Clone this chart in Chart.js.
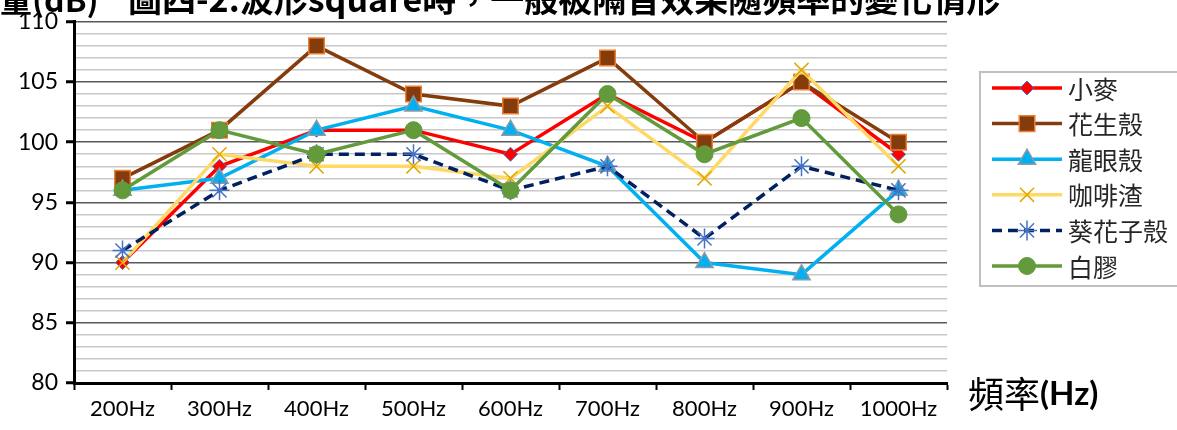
<!DOCTYPE html>
<html>
<head>
<meta charset="utf-8">
<script src="https://cdn.jsdelivr.net/npm/chart.js@4.4.1/dist/chart.umd.min.js"></script>
<style>
  html, body { margin: 0; padding: 0; background: #fff; }
  #wrap { width: 1177px; height: 430px; position: relative; }
</style>
</head>
<body>
<div id="wrap"><canvas id="chart" width="1177" height="430"></canvas></div>
<script>
const categories = ["200Hz", "300Hz", "400Hz", "500Hz", "600Hz", "700Hz", "800Hz", "900Hz", "1000Hz"];
const seriesNames = ["小麥", "花生殼", "龍眼殼", "咖啡渣", "葵花子殼", "白膠"];
const wheat = [90, 98, 101, 101, 99, 104, 100, 105, 99];
const peanut = [97, 101, 108, 104, 103, 107, 100, 105, 100];
const longan = [96, 97, 101, 103, 101, 98, 90, 89, 96];
const coffee = [90, 99, 98, 98, 97, 103, 97, 106, 98];
const sunflower = [91, 96, 99, 99, 96, 98, 92, 98, 96];
const glue = [96, 101, 99, 101, 96, 104, 99, 102, 94];
const yMin = 80, yMax = 110;
const titleText = "圖四-2:波形square時，一般被隔音效果隨頻率的變化情形";
const yTitle = "音量(dB)";

const styles = [
    { line: "#FF0000", fill: "#FF0000", edge: "#4472C4", shape: "rectRot", r: 7, edgeW: 1 },
    { line: "#843C0C", fill: "#843C0C", edge: "#ED7D31", shape: "rect", r: 11, edgeW: 1.5 },
    { line: "#00B0F0", fill: "#00B0F0", edge: "#8E9AA8", shape: "triangle", r: 10, edgeW: 1.5 },
    { line: "#FFD966", fill: "#FFC000", edge: "#E0A800", shape: "crossRot", r: 10, edgeW: 1.5 },
    { line: "#002060", fill: "#4472C4", edge: "#4472C4", shape: "star", r: 10, edgeW: 1.5, dash: [10, 6] },
    { line: "#629A3C", fill: "#629A3C", edge: "#629A3C", shape: "circle", r: 8.5, edgeW: 1 }
];
const values = [wheat, peanut, longan, coffee, sunflower, glue];

const datasets = values.map(function (data, i) {
    const s = styles[i];
    return {
        label: seriesNames[i],
        data: data,
        borderColor: s.line,
        borderWidth: 3.5,
        borderDash: s.dash || [],
        pointStyle: s.shape,
        pointRadius: s.r,
        pointBackgroundColor: s.fill,
        pointBorderColor: s.edge,
        pointBorderWidth: s.edgeW,
        tension: 0,
        // later series sit on top
        order: values.length - i
    };
});

// title, x axis name and legend box
const decorations = {
    id: "decorations",
    afterDraw(chart) {
        const ctx = chart.ctx;
        ctx.save();
        ctx.fillStyle = "#000";
        ctx.textBaseline = "alphabetic";
        ctx.textAlign = "left";
        ctx.font = "bold 32px 'Noto Sans CJK TC'";
        ctx.fillText(yTitle, -32, 12);
        ctx.font = "bold 34px 'Noto Sans CJK TC'";
        ctx.fillText(titleText, 128, 12);

        // x axis name
        ctx.font = "36px 'Noto Sans CJK TC'";
        ctx.textBaseline = "middle";
        ctx.fillText("頻率", 968, 394);
        const w = ctx.measureText("頻率").width;
        ctx.font = "bold 33px Lato";
        ctx.fillText("(Hz)", 968 + w, 394);

        // legend
        ctx.strokeStyle = "#BFBFBF";
        ctx.lineWidth = 2;
        ctx.strokeRect(980, 72, 210, 214);
        datasets.forEach(function (ds, i) {
            const y = 88 + i * 35.6;
            ctx.save();
            ctx.strokeStyle = ds.borderColor;
            ctx.lineWidth = 3.5;
            ctx.setLineDash(ds.borderDash);
            ctx.beginPath();
            ctx.moveTo(992, y);
            ctx.lineTo(1062, y);
            ctx.stroke();
            ctx.restore();
            ctx.save();
            ctx.fillStyle = ds.pointBackgroundColor;
            ctx.strokeStyle = ds.pointBorderColor;
            ctx.lineWidth = ds.pointBorderWidth;
            Chart.helpers.drawPoint(ctx, {
                pointStyle: ds.pointStyle,
                radius: ds.pointRadius,
                rotation: 0,
                borderWidth: ds.pointBorderWidth
            }, 1027, y);
            ctx.restore();
            ctx.fillStyle = "#262626";
            ctx.font = "25px 'Noto Sans CJK TC'";
            ctx.textBaseline = "middle";
            ctx.fillText(ds.label, 1068, y + 1);
        });
        ctx.restore();
    }
};

new Chart(document.getElementById("chart").getContext("2d"), {
    type: "line",
    data: { labels: categories, datasets: datasets },
    options: {
        responsive: false,
        animation: false,
        layout: { padding: { top: 20, right: 230, left: 0, bottom: 0 } },
        plugins: {
            legend: { display: false },
            tooltip: { enabled: false }
        },
        scales: {
            x: {
                offset: true,
                afterFit: function (axis) { axis.height = 47; },
                border: { color: "#000", width: 3 },
                grid: {
                    offset: true,
                    drawOnChartArea: false,
                    drawTicks: true,
                    tickLength: 7,
                    tickColor: "#000",
                    tickWidth: 2
                },
                ticks: {
                    color: "#000",
                    font: { family: "Lato", size: 22 },
                    padding: 6,
                    maxRotation: 0
                }
            },
            y: {
                min: yMin,
                max: yMax,
                afterFit: function (axis) { axis.width = 74; },
                border: { color: "#000", width: 3 },
                grid: {
                    color: function (c) {
                        const v = c.tick.value;
                        if (v === yMin) return "rgba(0,0,0,0)";
                        return v % 5 === 0 ? "#595959" : "#C8C8C8";
                    },
                    lineWidth: 1.5,
                    tickLength: 8,
                    tickWidth: 3,
                    tickColor: function (c) {
                        return c.tick.value % 5 === 0 ? "#000" : "rgba(0,0,0,0)";
                    }
                },
                ticks: {
                    stepSize: 1,
                    autoSkip: false,
                    color: "#000",
                    font: { family: "Lato", size: 23 },
                    padding: 8,
                    callback: function (v) { return v % 5 === 0 ? v : ""; }
                }
            }
        }
    },
    plugins: [decorations]
});
</script>
</body>
</html>
